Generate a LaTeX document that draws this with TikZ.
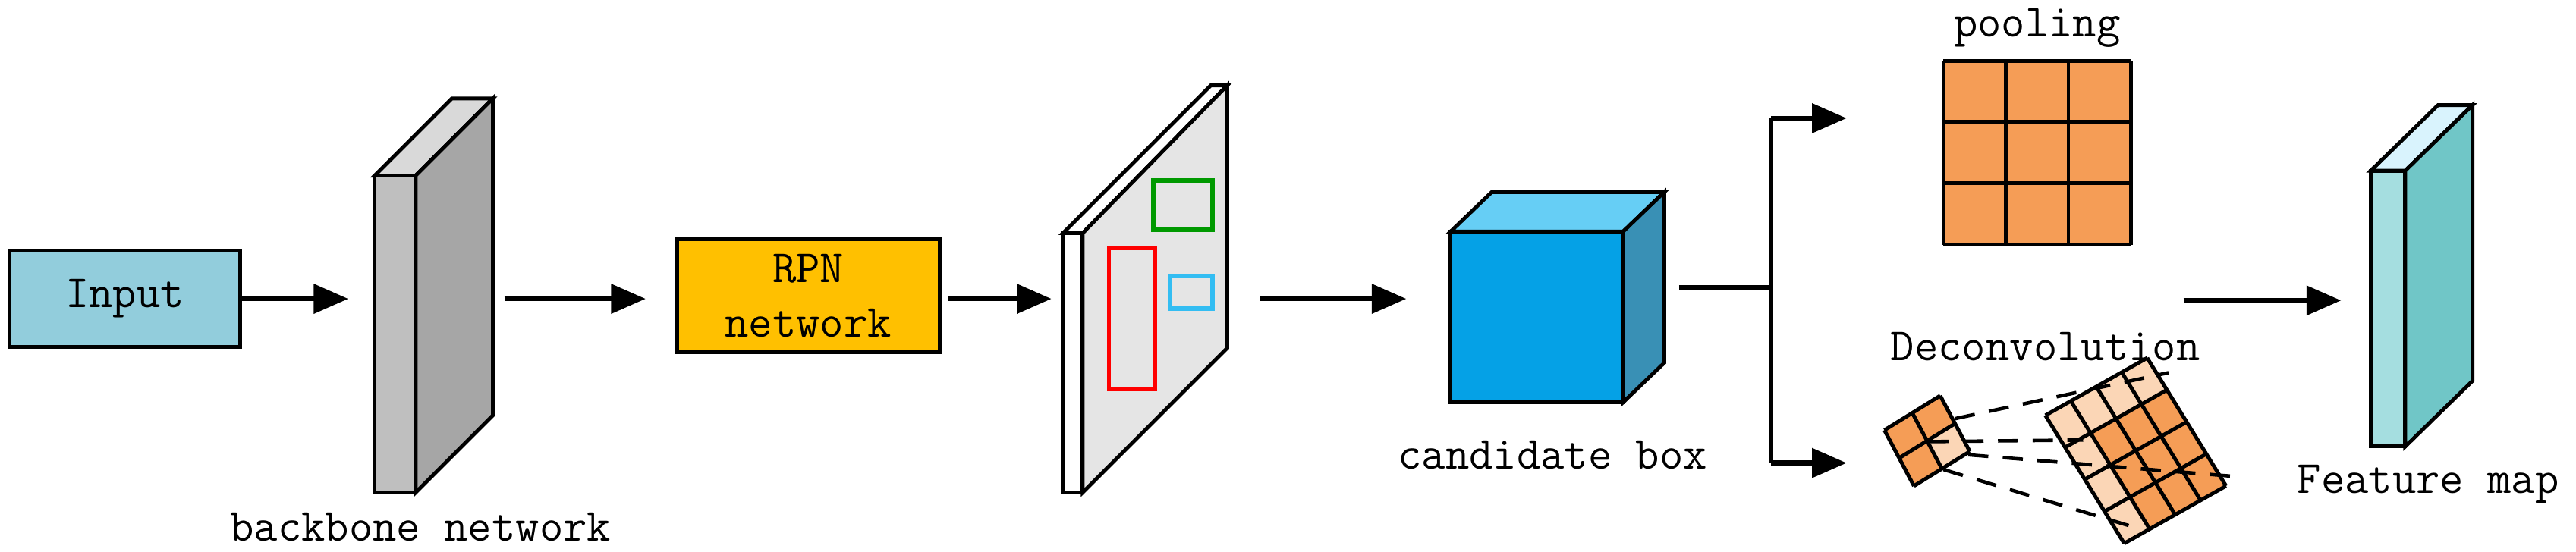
\documentclass[tikz,border=0pt]{standalone}
\usetikzlibrary{arrows.meta}
\definecolor{inp}{HTML}{92CDDC}
\definecolor{rpn}{HTML}{FFC000}
\definecolor{org}{HTML}{F59D56}
\definecolor{lorg}{HTML}{FBD6B6}
\begin{document}
\begin{tikzpicture}[x=0.02cm,y=-0.02cm,line join=miter,
  arr/.style={line width=1.7pt,-{Triangle[length=12pt,width=10pt]}},
  ol/.style={draw=black,line width=1.3pt},
  lbl/.style={font=\ttfamily\fontsize{16}{18}\selectfont,inner sep=0pt},
  box/.style={ol,font=\ttfamily\fontsize{16}{19}\selectfont,align=center,inner sep=0pt}]
\useasboundingbox (0,0) rectangle (1568,336);
% Input
\node[box,fill=inp,minimum width=140*0.02cm,minimum height=59*0.02cm] (in) at (76,182) {Input};
% backbone
\filldraw[ol,fill=gray!30] (228,107)--(275,60)--(300,60)--(253,107)--cycle;
\filldraw[ol,fill=gray!70] (253,107)--(300,60)--(300,253)--(253,300)--cycle;
\filldraw[ol,fill=gray!50] (228,107) rectangle (253,300);
\coordinate (bbin) at (212,182);
\coordinate (bbout) at (307,182);
\node[lbl] (bbl) at (256,321) {backbone network};
% RPN
\node[box,fill=rpn,minimum width=160*0.02cm,minimum height=69*0.02cm] (rpn) at (492,180) {RPN\\network};
\coordinate (rpnin) at (393,182);
\coordinate (rpnout) at (577,182);
% feature plane
\filldraw[ol,fill=white] (647,142)--(737,52)--(747,52)--(659,142)--cycle;
\filldraw[ol,fill=gray!20] (659,142)--(747,52)--(747,212)--(659,300)--cycle;
\filldraw[ol,fill=white] (647,142) rectangle (659,300);
\draw[line width=1.5pt,draw=green!60!black] (702,110) rectangle (738,140);
\draw[line width=1.5pt,draw=red] (675,151) rectangle (703,237);
\draw[line width=1.5pt,draw=cyan!80] (712,168) rectangle (738,188);
\coordinate (fpin) at (640,182);
\coordinate (fpout) at (767,182);
% cube
\filldraw[ol,fill=cyan!60] (883,141)--(908,117)--(1013,117)--(988,141)--cycle;
\filldraw[ol,fill=cyan!70!black] (988,141)--(1013,117)--(1013,221)--(988,245)--cycle;
\filldraw[ol,fill=cyan!90!blue] (883,141) rectangle (988,245);
\coordinate (cin) at (856,182);
\node[lbl] (cl) at (945,277) {candidate box};
\coordinate (cout) at (1022,175);
\coordinate (br) at (1078,175);
\coordinate (bt) at (1078,72);
\coordinate (bb2) at (1078,282);
\coordinate (t1) at (1124,72);
\coordinate (t2) at (1124,282);
% pooling
\fill[org] (1183,37) rectangle (1297,149);
\foreach \i in {0,1,2,3}{
  \draw[line width=1.3pt] (1183+38*\i,37)--(1183+38*\i,149);
  \draw[line width=1.3pt] (1183,37+37.33*\i)--(1297,37+37.33*\i);}
\node[lbl] (pl) at (1240,17) {pooling};
\node[lbl] (dl) at (1245,211) {Deconvolution};
% small grid
\begin{scope}[shift={(1147,262)},x={(0.34cm,0.21cm)},y={(0.18cm,-0.34cm)}]
  \fill[org] (0,0)--(2,0)--(2,2)--(0,2)--cycle;
  \fill[lorg] (1,1)--(2,1)--(2,2)--(1,2)--cycle;
  \foreach \i in {0,1,2}{
    \draw[line width=1.3pt] (\i,0)--(\i,2);
    \draw[line width=1.3pt] (0,\i)--(2,\i);}
\end{scope}
% big grid
\begin{scope}[shift={(1245,253)},x={(0.31cm,0.175cm)},y={(0.24cm,-0.39cm)}]
  \fill[lorg] (0,0)--(4,0)--(4,4)--(0,4)--cycle;
  \fill[org] (1,1)--(4,1)--(4,4)--(1,4)--cycle;
  \foreach \i in {0,...,4}{
    \draw[line width=1.3pt] (\i,0)--(\i,4);
    \draw[line width=1.3pt] (0,\i)--(4,\i);}
\end{scope}
\draw[line width=1.2pt,dash pattern=on 7pt off 5pt] (1190,255)--(1320,227);
\draw[line width=1.2pt,dash pattern=on 7pt off 5pt] (1174,269)--(1268,268);
\draw[line width=1.2pt,dash pattern=on 7pt off 5pt] (1198,277)--(1358,290);
\draw[line width=1.2pt,dash pattern=on 7pt off 5pt] (1183,286)--(1302,322);
% feature map
\filldraw[ol,fill=cyan!15!white] (1443,104)--(1484,64)--(1505,64)--(1464,104)--cycle;
\filldraw[ol,fill={rgb,255:red,112;green,198;blue,199}] (1464,104)--(1505,64)--(1505,232)--(1464,272)--cycle;
\filldraw[ol,fill={rgb,255:red,165;green,222;blue,224}] (1443,104) rectangle (1464,272);
\coordinate (fmin) at (1425,183);
\coordinate (fmsrc) at (1329,183);
\node[lbl] (fml) at (1478,295) {Feature map};
% arrows
\draw[arr] (in.east)--(bbin);
\draw[arr] (bbout)--(rpnin);
\draw[arr] (rpnout)--(fpin);
\draw[arr] (fpout)--(cin);
\draw[line width=1.7pt] (cout)--(br) (bt)--(bb2);
\draw[arr] (bt)--(t1);
\draw[arr] (bb2)--(t2);
\draw[arr] (fmsrc)--(fmin);
\end{tikzpicture}
\end{document}
